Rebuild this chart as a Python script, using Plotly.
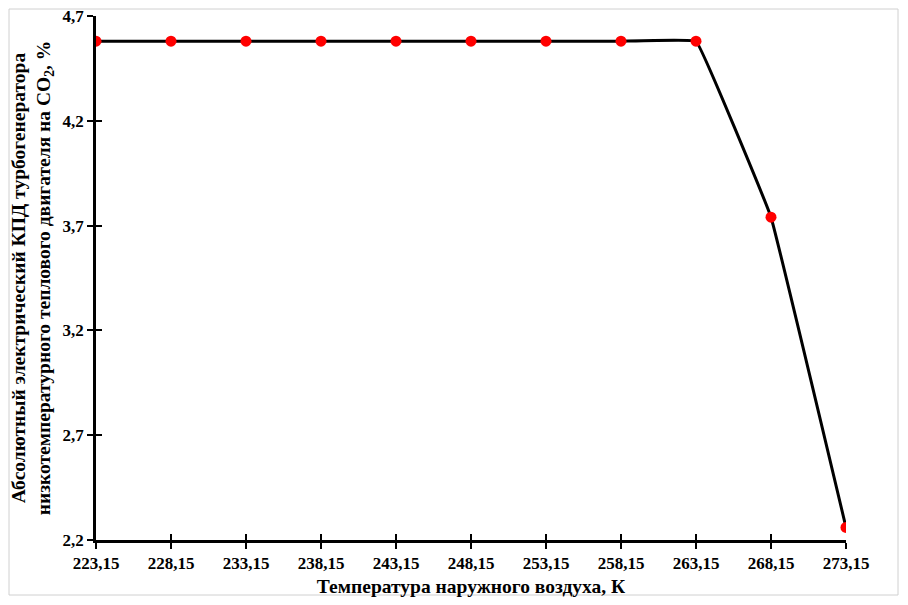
import plotly.graph_objects as go

# outdoor air temperature, K
temps = [223.15, 228.15, 233.15, 238.15, 243.15, 248.15, 253.15, 258.15, 263.15, 268.15, 273.15]
# absolute electrical efficiency, %
efficiency = [4.58, 4.58, 4.58, 4.58, 4.58, 4.58, 4.58, 4.58, 4.58, 3.74, 2.26]

x_ticks = temps
x_labels = ["<b>" + f"{t:.2f}".replace(".", ",") + "</b>" for t in temps]
y_ticks = [2.2, 2.7, 3.2, 3.7, 4.2, 4.7]
y_labels = ["<b>" + f"{v:.1f}".replace(".", ",") + "</b>" for v in y_ticks]

tick_font = dict(family="Liberation Serif", size=17, color="black")
title_font = dict(family="Liberation Serif", size=19.5, color="black")

fig = go.Figure()

fig.add_trace(go.Scatter(
    x=temps, y=efficiency,
    mode="lines+markers",
    line=dict(color="black", width=3, shape="spline", smoothing=0.15),
    marker=dict(color="#ff0000", size=11),
    showlegend=False,
))

axis_common = dict(showgrid=False, zeroline=False, showline=True, linecolor="black", linewidth=2.5,
                   ticklen=6, tickwidth=2, tickcolor="black", automargin=False,
                   ticklabeloverflow="allow")

# the page body adds 8px around the figure, so the figure is 16px smaller than the window
fig.update_layout(
    width=892, height=589,
    margin=dict(l=88, r=54, t=8, b=57),
    paper_bgcolor="white", plot_bgcolor="white",
    xaxis=dict(range=[223.15, 273.15], tickvals=x_ticks, ticktext=x_labels, ticks="outside",
               tickfont=tick_font,
               title=dict(text="<b>Температура наружного воздуха, К</b>", standoff=10, font=title_font),
               **axis_common),
    yaxis=dict(range=[2.2, 4.7], tickvals=y_ticks, ticktext=y_labels, ticks="outside",
               tickfont=tick_font,
               title=dict(text="<b>Абсолютный электрический КПД турбогенератора<br>"
                               "низкотемпературного теплового двигателя на CO<sub>2</sub>, %</b>",
                          standoff=10, font=title_font),
               **axis_common),
    # overlay axes to draw the inner half of the crossing tick marks
    xaxis2=dict(range=[223.15, 273.15], tickvals=x_ticks, ticks="inside", showticklabels=False,
                overlaying="x", side="bottom", anchor="y", **axis_common),
    yaxis2=dict(range=[2.2, 4.7], tickvals=y_ticks, ticks="inside", showticklabels=False,
                overlaying="y", side="left", anchor="x", **axis_common),
)

fig.add_trace(go.Scatter(x=[None], y=[None], xaxis="x2", yaxis="y2", showlegend=False, hoverinfo="skip"))

# thin grey frame near the picture edge
fig.add_shape(type="rect", xref="paper", yref="paper",
              x0=-87 / 750, x1=1 + 52 / 750, y0=-55 / 524, y1=1 + 7 / 524,
              line=dict(color="#d0d0d0", width=1))

fig.write_html("out.html")
